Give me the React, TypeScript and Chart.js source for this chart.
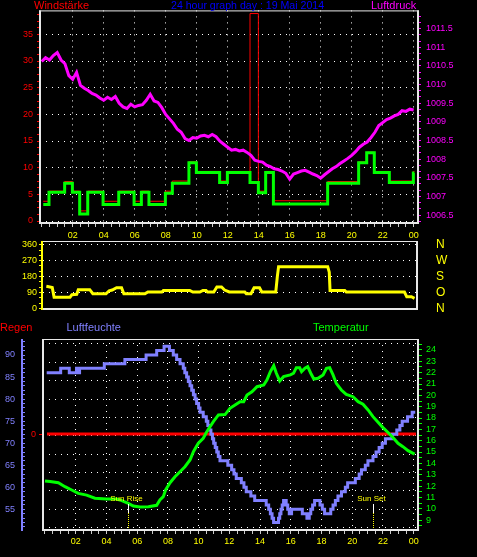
import React, { useEffect, useRef } from "react";
import { Chart, registerables } from "chart.js";

Chart.register(...registerables);

// ---------------- DATA ----------------
// Top panel: wind speed (Windstärke) – step changes (hour, value)
const windHours = [0.1, 0.47, 1.48, 1.98, 2.45, 2.97, 3.96, 4.97, 5.96, 6.43, 6.92, 7.98, 8.43, 9.5, 9.98, 11.48, 11.98, 13.44, 13.98, 14.45, 14.95, 18.45, 20.45, 20.97, 21.46, 22.43, 23.98, 24.05];
const windSpeed = [3.1, 5.4, 7.1, 5.4, 1.3, 5.4, 3.1, 5.4, 3.1, 5.4, 3.1, 5.2, 7.1, 10.9, 9.1, 7.2, 9.1, 7.2, 5.3, 9.1, 3.2, 7.1, 10.9, 12.8, 9.1, 7.2, 9.0, 9.0];

// gusts (thin red)
const gustHours = [0.1, 0.47, 1.48, 1.98, 2.45, 2.97, 3.96, 4.97, 5.96, 6.43, 6.92, 7.98, 8.43, 9.5, 9.98, 11.48, 11.98, 13.44, 13.44, 13.98, 14.45, 14.95, 18.45, 20.45, 20.97, 21.46, 22.43, 23.98, 24.05];
const gustSpeed = [3.7, 5.6, 7.4, 5.6, 1.9, 5.6, 3.7, 5.6, 3.7, 5.6, 3.7, 5.6, 7.5, 11.1, 9.3, 7.5, 9.3, 7.5, 38.9, 5.6, 9.3, 3.8, 7.4, 11.1, 12.9, 9.3, 7.5, 9.3, 9.3];

// pressure (Luftdruck), one reading every quarter hour from 00:00
const pressureValues = [
  1010.62, 1010.72, 1010.66, 1010.78, 1010.86, 1010.66, 1010.56, 1010.24, 1010.14, 1010.33,
  1009.98, 1009.9, 1009.84, 1009.76, 1009.72, 1009.64, 1009.58, 1009.66, 1009.6, 1009.68,
  1009.5, 1009.4, 1009.36, 1009.47, 1009.4, 1009.44, 1009.46, 1009.58, 1009.74, 1009.56,
  1009.52, 1009.38, 1009.2, 1009.08, 1008.96, 1008.8, 1008.72, 1008.55, 1008.5, 1008.58,
  1008.56, 1008.62, 1008.64, 1008.6, 1008.66, 1008.6, 1008.48, 1008.4, 1008.32, 1008.24,
  1008.26, 1008.22, 1008.24, 1008.18, 1008.1, 1007.97, 1007.94, 1007.92, 1007.84, 1007.8,
  1007.74, 1007.72, 1007.68, 1007.62, 1007.46, 1007.6, 1007.64, 1007.68, 1007.7, 1007.65,
  1007.6, 1007.56, 1007.49, 1007.58, 1007.66, 1007.74, 1007.8, 1007.88, 1007.95, 1008.02,
  1008.1, 1008.2, 1008.32, 1008.4, 1008.46, 1008.58, 1008.72, 1008.9, 1008.98, 1009.06,
  1009.1, 1009.16, 1009.2, 1009.3, 1009.28, 1009.34, 1009.32,
];
const pressureStep = 0.25;

// Middle panel: wind direction (degrees)
const dirHours = [0.3, 0.68, 0.8, 1.83, 1.95, 2.26, 2.36, 3.1, 3.3, 4.15, 4.35, 4.55, 4.83, 5.15, 5.3, 6.66, 6.85, 7.75, 7.85, 9.55, 9.75, 10.2, 10.4, 10.6, 10.7, 11.1, 11.3, 11.6, 11.8, 12.1, 13.1, 13.2, 13.5, 13.7, 14.05, 14.2, 15.1, 15.2, 15.28, 18.45, 18.55, 18.6, 19.55, 19.65, 23.4, 23.55, 23.85, 24.05];
const dirValues = [125, 118, 64, 64, 78, 80, 106, 106, 83, 83, 100, 104, 117, 117, 83, 83, 93, 93, 102, 102, 93, 93, 102, 102, 93, 93, 121, 121, 104, 93, 93, 83, 83, 117, 117, 93, 93, 180, 236, 236, 205, 102, 102, 93, 93, 66, 66, 57];
const dirTicks = [0, 90, 180, 270, 360];
const dirLetters = ["N", "O", "S", "W", "N"];

// Bottom panel: humidity (Luftfeuchte) – step changes
const humHours = [0.11, 1.02, 1.58, 2.05, 2.12, 2.25, 3.86, 5.2, 6.58, 7.27, 7.75, 8.1, 8.35, 8.57, 8.79, 9.0, 9.1, 9.22, 9.33, 9.44, 9.55, 9.66, 9.77, 9.87, 10.0, 10.09, 10.3, 10.5, 10.6, 10.7, 10.8, 10.9, 10.98, 11.08, 11.18, 11.28, 11.39, 11.9, 12.15, 12.3, 12.45, 12.78, 12.95, 13.1, 13.4, 13.65, 14.4, 14.56, 14.67, 14.78, 14.88, 15.2, 15.28, 15.36, 15.44, 15.53, 15.7, 15.8, 15.9, 16.05, 16.75, 17.05, 17.2, 17.3, 17.42, 17.55, 17.9, 18.05, 18.2, 18.6, 18.75, 18.9, 19.07, 19.3, 19.55, 19.7, 20.2, 20.45, 20.6, 20.85, 21.02, 21.35, 21.55, 21.75, 21.95, 22.16, 22.6, 22.9, 23.1, 23.25, 23.6, 23.9, 24.1];
const humValues = [86, 87, 86, 87, 86, 87, 88, 89, 90, 91, 92, 91, 90, 89, 88, 87, 86, 85, 84, 83, 82, 81, 80, 79, 78, 77, 76, 75, 74, 73, 72, 71, 70, 69, 68, 67, 66, 65, 64, 63, 62, 61, 60, 59, 58, 57, 56, 55, 54, 53, 52, 53, 54, 55, 56, 57, 56, 55, 54, 55, 54, 53, 54, 55, 56, 57, 56, 55, 54, 55, 56, 57, 58, 59, 60, 61, 62, 63, 64, 65, 66, 67, 68, 69, 70, 71, 72, 73, 74, 75, 76, 77, 77];

// temperature (Temperatur)
const tempHours = [0.0, 0.33, 0.87, 1.3, 1.74, 2.17, 2.71, 3.25, 4.0, 4.66, 4.88, 5.42, 5.75, 6.18, 6.73, 7.27, 7.48, 7.7, 7.85, 8.14, 8.46, 8.79, 9.11, 9.44, 9.66, 9.98, 10.3, 10.53, 10.96, 11.29, 11.72, 12.04, 12.37, 12.7, 12.93, 13.15, 13.47, 13.8, 14.24, 14.45, 14.67, 14.89, 15.06, 15.28, 15.53, 15.97, 16.18, 16.36, 16.58, 16.7, 16.92, 17.1, 17.3, 17.5, 17.77, 18.1, 18.32, 18.53, 18.75, 18.96, 19.29, 19.61, 20.05, 20.38, 20.7, 21.03, 21.35, 21.68, 22.0, 22.33, 22.65, 22.98, 23.3, 23.63, 24.06];
const tempValues = [12.44, 12.39, 12.29, 11.94, 11.65, 11.35, 11.2, 10.92, 10.86, 10.86, 10.77, 10.47, 10.24, 10.15, 10.18, 10.3, 10.77, 11.06, 11.65, 12.29, 12.82, 13.26, 13.7, 14.3, 15.03, 15.77, 16.21, 16.79, 17.68, 18.27, 18.3, 18.86, 19.15, 19.44, 19.44, 20.03, 20.32, 20.76, 20.91, 21.36, 22.09, 22.62, 21.95, 21.27, 21.65, 21.8, 21.95, 22.44, 22.44, 22.09, 22.39, 22.53, 21.95, 21.44, 21.5, 21.8, 22.39, 22.44, 21.8, 21.06, 20.47, 20.09, 19.88, 19.44, 19.21, 18.71, 18.12, 17.62, 17.15, 16.72, 16.28, 15.77, 15.47, 15.12, 14.82];

// rain (Regen)
const rainHours = [0.13, 24.15];
const rainValues = [0, 0];

// sun events
const sunLabels = ["Sun Rise", "Sun Set"];
const sunHours = [5.42, 21.37];

// ---------------- STYLE ----------------
const W = 477;
const H = 557;
const FONT = "'Liberation Sans', Arial, sans-serif";
const TICK_FONT = "'Liberation Sans Narrow', 'Liberation Sans', Arial, sans-serif";
const RED = "#ff0000";
const GREEN = "#00ff00";
const MAGENTA = "#ff00ff";
const YELLOW = "#ffff00";
const BLUE = "#8080ff";
const DOT = "#ffffff";
const FRAME = "#e8e8e8";
const NONE = "rgba(0,0,0,0)";
const TICKGREY = "#cccccc";

const pts = (xs: number[], ys: number[]) => xs.map((x, i) => ({ x, y: ys[i] }));
const range = (a: number, b: number, s: number) => {
  const out: number[] = [];
  for (let v = a; v <= b + 1e-9; v += s) out.push(+v.toFixed(6));
  return out;
};
const isMult = (v: number, m: number) => Math.abs(v / m - Math.round(v / m)) < 1e-6;
const pad2 = (h: number) => String(Math.round(h) % 24).padStart(2, "0");
const setTicks = (vals: number[]) => (s: any) => {
  s.ticks = vals.map((v) => ({ value: v }));
};
const tickFont = (size = 9) => ({ family: TICK_FONT, size });

function framePlugin(leftColor: string, leftOffset: number, extra?: (chart: any) => void) {
  return {
    id: "frame",
    afterDatasetsDraw(chart: any) {
      const { ctx, chartArea: a } = chart;
      ctx.save();
      ctx.fillStyle = FRAME;
      ctx.fillRect(a.left - 1, a.top, a.right - a.left + 2, 1);
      ctx.fillRect(a.right - 1, a.top, 2, a.bottom - a.top + 1);
      ctx.fillRect(a.left - 1, a.bottom - 1, a.right - a.left + 2, 2);
      ctx.fillStyle = leftColor;
      ctx.fillRect(a.left + leftOffset, a.top, 2, a.bottom - a.top + 1);
      if (extra) extra(chart);
      ctx.restore();
    },
  };
}

const sunPlugin = {
  id: "sunMarks",
  afterDatasetsDraw(chart: any) {
    const { ctx, chartArea: a, scales } = chart;
    ctx.save();
    sunHours.forEach((h, i) => {
      const px = Math.round(scales.x.getPixelForValue(h)) + 0.5;
      ctx.lineWidth = 1;
      ctx.setLineDash([]);
      ctx.strokeStyle = "#ffffff";
      ctx.beginPath();
      ctx.moveTo(px, a.bottom - 26);
      ctx.lineTo(px, a.bottom - 17);
      ctx.stroke();
      ctx.setLineDash([1, 1]);
      ctx.strokeStyle = YELLOW;
      ctx.beginPath();
      ctx.moveTo(px, a.bottom - 17);
      ctx.lineTo(px, a.bottom - 1);
      ctx.stroke();
      ctx.setLineDash([]);
      ctx.fillStyle = YELLOW;
      ctx.font = `8px ${FONT}`;
      ctx.textAlign = "center";
      ctx.textBaseline = "alphabetic";
      ctx.fillText(sunLabels[i], px - 2, a.bottom - 29);
    });
    ctx.restore();
  },
};

const baseOptions = (padding: any) => ({
  responsive: false,
  animation: false as const,
  events: [] as any[],
  layout: { padding },
  elements: { point: { radius: 0 }, line: { tension: 0, borderCapStyle: "butt" } },
  plugins: { legend: { display: false }, tooltip: { enabled: false }, title: { display: false } },
});

const hourAxis = (min: number, max: number, height: number, pad: number) => ({
  type: "linear",
  position: "bottom",
  min,
  max,
  afterFit: (s: any) => {
    s.height = height;
  },
  afterBuildTicks: setTicks(range(0, 24, 0.5)),
  ticks: {
    autoSkip: false,
    maxRotation: 0,
    minRotation: 0,
    padding: pad,
    color: YELLOW,
    font: tickFont(9),
    callback: (v: number) => (isMult(v, 2) && v > 0 ? pad2(v) : ""),
  },
  grid: {
    color: (c: any) => (c.tick && isMult(c.tick.value, 2) && c.tick.value > 0 ? DOT : NONE),
    lineWidth: 1,
    tickLength: 4,
    tickWidth: 1,
    tickColor: TICKGREY,
    tickBorderDash: [],
  },
  border: { display: false, dash: [1, 5] },
});

function topConfig(): any {
  return {
    type: "line",
    data: {
      datasets: [
        {
          label: "Luftdruck",
          data: pts(pressureValues.map((_, i) => i * pressureStep), pressureValues),
          yAxisID: "yP",
          borderColor: MAGENTA,
          borderWidth: 3,
          order: 0,
        },
        {
          label: "Windstärke",
          data: pts(windHours, windSpeed),
          yAxisID: "yW",
          borderColor: GREEN,
          borderWidth: 3,
          stepped: true,
          order: 1,
        },
        {
          label: "Böen",
          data: pts(gustHours, gustSpeed),
          yAxisID: "yW",
          borderColor: RED,
          borderWidth: 1,
          stepped: true,
          order: 2,
        },
      ],
    },
    options: {
      ...baseOptions({ left: 0, right: 0, top: 10, bottom: 312 }),
      scales: {
        x: hourAxis(-0.11, 24.28, 22, 3),
        yW: {
          type: "linear",
          position: "left",
          min: -0.374,
          max: 39.49,
          afterFit: (s: any) => {
            s.width = 40;
          },
          afterBuildTicks: setTicks(range(0, 38.75, 1.25)),
          ticks: {
            autoSkip: false,
            padding: 4,
            color: RED,
            font: tickFont(9),
            callback: (v: number) => (isMult(v, 5) && v <= 35 ? String(v) : ""),
          },
          grid: {
            color: (c: any) => (c.tick && isMult(c.tick.value, 5) ? DOT : NONE),
            lineWidth: 1,
            tickLength: 3,
            tickWidth: 1,
            tickColor: RED,
            tickBorderDash: [],
          },
          border: { display: false, dash: [1, 5] },
        },
        yP: {
          type: "linear",
          position: "right",
          min: 1006.286,
          max: 1011.99,
          afterFit: (s: any) => {
            s.width = 59;
          },
          afterBuildTicks: setTicks(range(-1, 32, 1).map((k) => 1006.5 + k / 6)),
          ticks: {
            autoSkip: false,
            padding: 5,
            color: MAGENTA,
            font: tickFont(9),
            callback: (v: number) => (isMult(v, 0.5) ? String(Math.round(v * 2) / 2) : ""),
          },
          grid: {
            drawOnChartArea: false,
            tickLength: 3,
            tickWidth: 1,
            tickColor: MAGENTA,
            tickBorderDash: [],
          },
          border: { display: false },
        },
      },
    },
    plugins: [framePlugin(FRAME, -1)],
  };
}

function midConfig(): any {
  return {
    type: "line",
    data: {
      datasets: [
        {
          label: "Windrichtung",
          data: pts(dirHours, dirValues),
          yAxisID: "yM",
          borderColor: YELLOW,
          borderWidth: 3,
        },
      ],
    },
    options: {
      ...baseOptions({ left: 0, right: 0, top: 241, bottom: 248 }),
      scales: {
        x: { type: "linear", display: false, min: 0.084, max: 24.21 },
        yM: {
          type: "linear",
          position: "left",
          min: -3,
          max: 381,
          afterFit: (s: any) => {
            s.width = 43;
          },
          afterBuildTicks: setTicks(range(0, 360, 30)),
          ticks: {
            autoSkip: false,
            padding: 2,
            color: YELLOW,
            font: tickFont(9),
            callback: (v: number) => (isMult(v, 90) ? String(v) : ""),
          },
          grid: {
            color: (c: any) => (c.tick && isMult(c.tick.value, 90) ? DOT : NONE),
            lineWidth: 1,
            tickLength: 4,
            tickWidth: 1,
            tickColor: YELLOW,
            tickBorderDash: [],
          },
          border: { display: false, dash: [1, 5] },
        },
        yD: {
          type: "linear",
          position: "right",
          min: -3,
          max: 381,
          afterFit: (s: any) => {
            s.width = 60;
          },
          afterBuildTicks: setTicks(dirTicks),
          ticks: {
            autoSkip: false,
            padding: 19,
            color: YELLOW,
            font: { family: TICK_FONT, size: 12 },
            callback: (v: number) => dirLetters[dirTicks.indexOf(v)] ?? "",
          },
          grid: { display: false, drawTicks: false, drawOnChartArea: false },
          border: { display: false },
        },
      },
    },
    plugins: [framePlugin(YELLOW, -2)],
  };
}

function bottomConfig(): any {
  const humMin = 50.31;
  const humMax = 93.63;
  return {
    type: "line",
    data: {
      datasets: [
        {
          label: "Temperatur",
          data: pts(tempHours, tempValues),
          yAxisID: "yT",
          borderColor: GREEN,
          borderWidth: 3,
          order: 0,
        },
        {
          label: "Luftfeuchte",
          data: pts(humHours, humValues),
          yAxisID: "yH",
          borderColor: BLUE,
          borderWidth: 3,
          stepped: true,
          order: 1,
        },
        {
          label: "Regen",
          data: pts(rainHours, rainValues),
          yAxisID: "yR",
          borderColor: RED,
          borderWidth: 3,
          order: 2,
        },
      ],
    },
    options: {
      ...baseOptions({ left: 0, right: 0, top: 339, bottom: 0 }),
      scales: {
        x: hourAxis(-0.13, 24.28, 27, 2),
        yH: {
          type: "linear",
          position: "left",
          weight: 1,
          min: humMin,
          max: humMax,
          afterFit: (s: any) => {
            s.width = 25;
          },
          afterBuildTicks: setTicks(range(51, 93, 1)),
          ticks: {
            autoSkip: false,
            padding: 7,
            color: BLUE,
            font: tickFont(9),
            callback: (v: number) => (isMult(v, 5) && v >= 55 && v <= 90 ? String(v) : ""),
          },
          grid: {
            drawOnChartArea: false,
            tickLength: 3,
            tickWidth: 1,
            tickColor: BLUE,
            tickBorderDash: [],
          },
          border: { display: false },
        },
        yR: {
          type: "linear",
          position: "left",
          weight: 0,
          min: -1,
          max: 0.99,
          afterFit: (s: any) => {
            s.width = 18;
          },
          afterBuildTicks: setTicks([0]),
          ticks: {
            autoSkip: false,
            padding: 3,
            color: RED,
            font: tickFont(9),
            callback: (v: number) => String(v),
          },
          grid: {
            drawOnChartArea: false,
            tickLength: 4,
            tickWidth: 1,
            tickColor: RED,
            tickBorderDash: [],
          },
          border: { display: false },
        },
        yG: {
          type: "linear",
          position: "right",
          weight: 0,
          min: humMin,
          max: humMax,
          afterFit: (s: any) => {
            s.width = 0;
          },
          afterBuildTicks: setTicks(range(-1, 9, 1).map((k) => 55 + (k * 25) / 6)),
          ticks: { display: false, autoSkip: false },
          grid: { color: DOT, lineWidth: 1, drawTicks: false },
          border: { display: false, dash: [1, 5] },
        },
        yT: {
          type: "linear",
          position: "right",
          weight: 1,
          min: 8.12,
          max: 24.97,
          afterFit: (s: any) => {
            s.width = 59;
          },
          afterBuildTicks: setTicks(range(8.5, 24.5, 0.5)),
          ticks: {
            autoSkip: false,
            padding: 4,
            color: GREEN,
            font: tickFont(9),
            callback: (v: number) => (isMult(v, 1) && v >= 9 && v <= 24 ? String(v) : ""),
          },
          grid: {
            drawOnChartArea: false,
            tickLength: 4,
            tickWidth: 1,
            tickColor: GREEN,
            tickBorderDash: [],
          },
          border: { display: false },
        },
      },
    },
    plugins: [
      framePlugin(FRAME, -1, (chart: any) => {
        const s = chart.scales.yH;
        const a = chart.chartArea;
        chart.ctx.fillStyle = BLUE;
        chart.ctx.fillRect(s.right - 4, a.top, 2, a.bottom - a.top + 1);
      }),
      sunPlugin,
    ],
  };
}

const titleStyle = (left: number, top: number, color: string, size = 11): React.CSSProperties => ({
  position: "absolute",
  left,
  top,
  color,
  fontFamily: FONT,
  fontSize: size,
  lineHeight: "11px",
  whiteSpace: "nowrap",
});

export default function App() {
  const topRef = useRef<HTMLCanvasElement>(null);
  const midRef = useRef<HTMLCanvasElement>(null);
  const botRef = useRef<HTMLCanvasElement>(null);

  useEffect(() => {
    document.body.style.margin = "0";
    document.body.style.background = "#000";
    const charts = [
      new Chart(topRef.current as HTMLCanvasElement, topConfig()),
      new Chart(midRef.current as HTMLCanvasElement, midConfig()),
      new Chart(botRef.current as HTMLCanvasElement, bottomConfig()),
    ];
    return () => charts.forEach((c) => c.destroy());
  }, []);

  const canvasStyle: React.CSSProperties = { position: "absolute", left: 0, top: 0 };

  return (
    <div
      style={{
        position: "absolute",
        left: 0,
        top: 0,
        width: W,
        height: H,
        background: "#000",
        overflow: "hidden",
      }}
    >
      <canvas ref={topRef} width={W} height={H} style={canvasStyle} />
      <canvas ref={midRef} width={W} height={H} style={canvasStyle} />
      <canvas ref={botRef} width={W} height={H} style={canvasStyle} />
      <div style={titleStyle(34, 0, RED)}>Windstärke</div>
      <div style={titleStyle(171, 0, "#0000ff", 10.6)}>24 hour graph day : 19 Mai 2014</div>
      <div style={titleStyle(371, 0, MAGENTA)}>Luftdruck</div>
      <div style={titleStyle(0, 322, RED)}>Regen</div>
      <div style={titleStyle(66.5, 322, BLUE)}>Luftfeuchte</div>
      <div style={titleStyle(313, 322, GREEN)}>Temperatur</div>
    </div>
  );
}
